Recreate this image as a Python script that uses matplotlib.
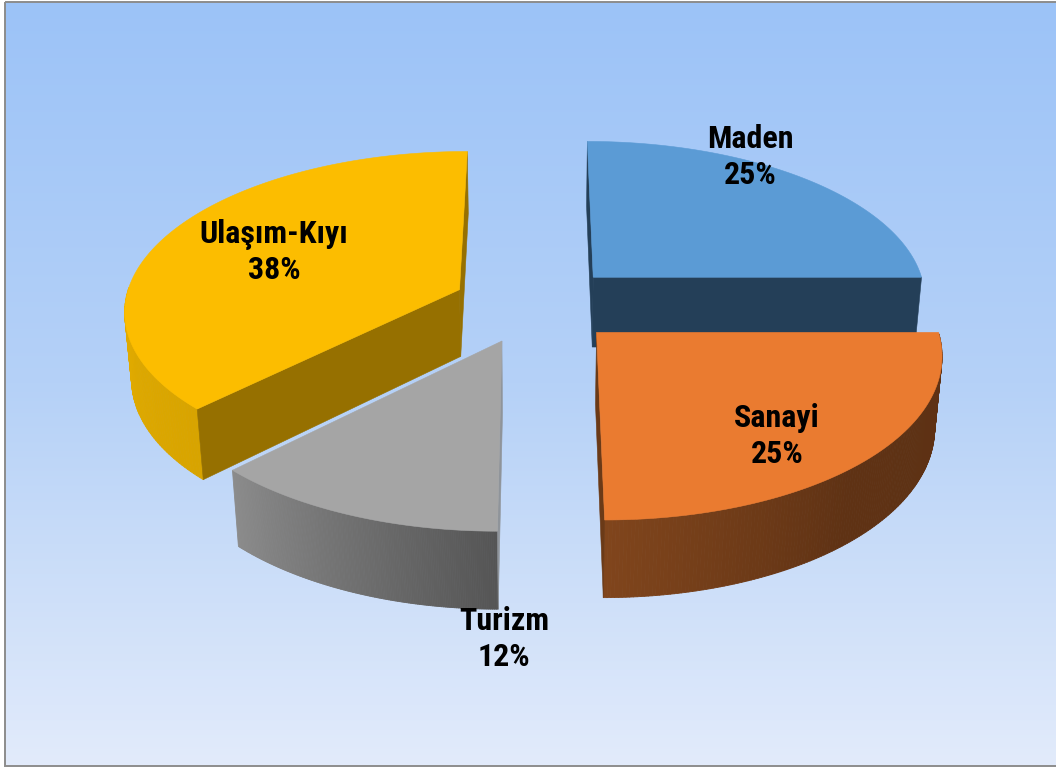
import numpy as np
import matplotlib
matplotlib.use("Agg")
import matplotlib.pyplot as plt
from matplotlib.collections import PolyCollection
from matplotlib.colors import to_rgb, LinearSegmentedColormap
from matplotlib.patches import Rectangle, Polygon

# data
categories = ["Maden", "Sanayi", "Turizm", "Ulaşım-Kıyı"]
values = [25, 25, 12.49, 37.51]
percent_labels = ["25%", "25%", "12%", "38%"]

# style
top_colors = ["#5b9bd5", "#ea7b30", "#a5a5a5", "#fcbd00"]
side_colors = ["#243f58", "#6b3a17", "#8f949a", "#967000"]
wall_stops = [
    [(0, "#243f58"), (1, "#243f58")],
    [(0, "#5d3114"), (0.55, "#5f3214"), (1, "#80451c")],
    [(0, "#555555"), (1, "#8b8b8b")],
    [(0, "#d8a400"), (0.25, "#e0aa00"), (1, "#d8a400")],
]
cx, cy, Sx, Sy = 537.0, 305.0, 335.0, 158.0
k, depth, shrink, explode = 0.12, 72.0, 0.018, 0.24
depth_scale = [1.0, 1.0, 1.0, 0.95]
nudge_x = [0.5, 1.5, -3.5, -4]
nudge_y = [-1.5, 0, 0, -1]
label_pos = [(750, 157), (777, 436), (504, 639), (274, 252)]
draw_order = [0, 3, 2, 1]

W, H = 1056, 769
fig = plt.figure(figsize=(W / 100, H / 100), dpi=100, facecolor="white")
ax = fig.add_axes([0, 0, 1, 1])
ax.axis("off")

# background gradient and frame
bg = LinearSegmentedColormap.from_list("bg", ["#9cc3f8", "#b5d1f7", "#e2ebfb"])
ax.imshow(np.linspace(0, 1, 256)[:, None], cmap=bg, extent=(5, W, 765, 2),
          aspect="auto", zorder=0)
ax.set_xlim(0, W)
ax.set_ylim(H, 0)
ax.add_patch(Rectangle((4.5, 1.5), W, 764, fill=False, ec="#8c8c8c", lw=1.4, zorder=1))


def project(X, Y, z=0.0):
    w = 1 - k * np.asarray(Y) + shrink * z
    return np.column_stack([cx + Sx * np.asarray(X) / w,
                            cy + (Sy * np.asarray(Y) + depth * z) / w])


def mix(stops, t):
    ts = [s[0] for s in stops]
    cols = np.array([to_rgb(s[1]) for s in stops])
    return [np.interp(t, ts, cols[:, i]) for i in range(3)]


def signed_area(p):
    p = np.asarray(p)
    q = np.roll(p, -1, axis=0)
    return 0.5 * np.sum(p[:, 0] * q[:, 1] - q[:, 0] * p[:, 1])


total = sum(values)
edges = np.concatenate([[0], np.cumsum(values)]) / total * 2 * np.pi

for order, i in enumerate(draw_order):
    a0, a1 = edges[i], edges[i + 1]
    mid = (a0 + a1) / 2
    ox, oy = explode * np.sin(mid), -explode * np.cos(mid)
    th = np.linspace(a0, a1, 160)
    X = ox + np.sin(th)
    Y = oy - np.cos(th)
    shift = np.array([nudge_x[i], nudge_y[i]])
    dz = depth_scale[i]
    top_rim = project(X, Y, 0) + shift
    bot_rim = project(X, Y, dz) + shift
    apex_t = project([ox], [oy], 0)[0] + shift
    apex_b = project([ox], [oy], dz)[0] + shift

    # outer wall, only the part that faces the viewer
    quads, cols = [], []
    for j in range(len(th) - 1):
        if np.cos(th[j]) < 0.0:
            quads.append([top_rim[j], top_rim[j + 1], bot_rim[j + 1], bot_rim[j]])
            cols.append(mix(wall_stops[i], j / (len(th) - 2)))
    if quads:
        ax.add_collection(PolyCollection(quads, facecolors=cols, edgecolors=cols,
                                         linewidths=0.6, zorder=2 + order))
    z = 2.1 + order
    # cut walls, only when they face the viewer
    for e, sign in ((0, -1), (-1, 1)):
        wall = [apex_t, top_rim[e], bot_rim[e], apex_b]
        if signed_area(wall) * sign > 0:
            ax.add_patch(Polygon(wall, closed=True, fc=side_colors[i], ec=side_colors[i],
                                 lw=0.4, zorder=z))
    # top face
    ax.add_patch(Polygon(np.vstack([apex_t, top_rim]), closed=True,
                         fc=top_colors[i], ec=top_colors[i], lw=0.4, zorder=z + 0.1))

for name, pct, (lx, ly) in zip(categories, percent_labels, label_pos):
    ax.text(lx, ly, f"{name}\n{pct}", ha="center", va="center", fontsize=23,
            fontweight="bold", family=["Roboto Condensed", "Liberation Sans"],
            color="black", linespacing=1.22, zorder=20)

fig.savefig("out.png", dpi=100, facecolor="white")
